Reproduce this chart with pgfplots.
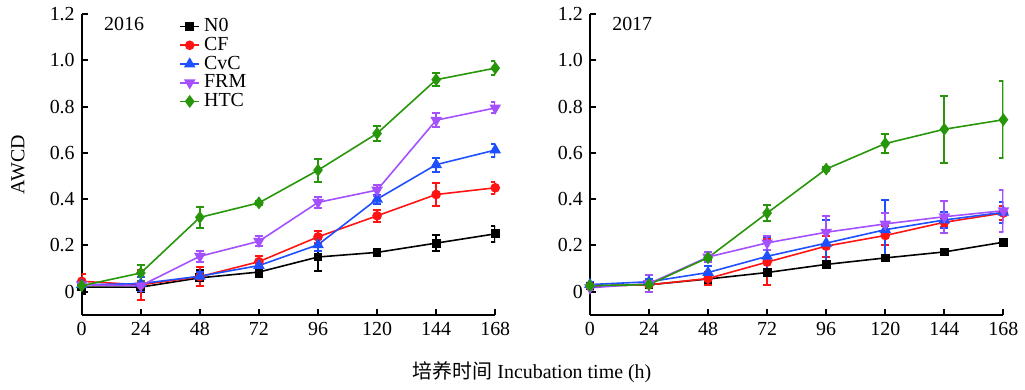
\documentclass[border=0pt]{standalone}
\usepackage{fontspec}
\setmainfont{Liberation Serif}
\newfontfamily\cjk{Noto Sans CJK SC}
\usepackage{pgfplots}
\pgfplotsset{compat=1.18}
\definecolor{cN}{RGB}{0,0,0}
\definecolor{cCF}{RGB}{255,20,20}
\definecolor{cCvC}{RGB}{30,80,255}
\definecolor{cFRM}{RGB}{165,80,255}
\definecolor{cHTC}{RGB}{40,150,10}
\pgfplotsset{
  myaxis/.style={
    scale only axis, width=207.5pt, height=151pt,
    xmin=0, xmax=168, ymin=-0.1, ymax=1.2,
    axis x line=bottom, axis y line=left,
    axis line style={line width=1pt,-},
    xtick={0,24,48,72,96,120,144,168},
    ytick={0,0.2,0.4,0.6,0.8,1.0,1.2},
    yticklabels={0,0.2,0.4,0.6,0.8,1.0,1.2},
    tick align=inside, major tick length=3pt,
    tick style={line width=1pt, black},
    /pgf/number format/assume math mode=true,
    tick label style={font=\fontsize{10}{12}\selectfont},
    every axis plot/.append style={line width=0.8pt},
    error bars/error bar style={line width=1pt},
    error bars/error mark options={rotate=90, mark size=2pt, line width=1pt},
    legend image code/.code={\draw[mark repeat=2,mark phase=2] plot coordinates {(0cm,0cm)(0.17cm,0cm)(0.34cm,0cm)};},
  },
  sN/.style={color=cN, mark=square*, mark size=1.8pt, error bars/.cd, y dir=both, y explicit},
  sCF/.style={color=cCF, mark=*, mark size=2pt, error bars/.cd, y dir=both, y explicit},
  sCvC/.style={color=cCvC, mark=triangle*, mark size=2.6pt, error bars/.cd, y dir=both, y explicit},
  sFRM/.style={color=cFRM, mark=triangle*, mark options={rotate=180}, mark size=2.6pt, error bars/.cd, y dir=both, y explicit},
  sHTC/.style={color=cHTC, mark=diamond*, mark size=2.6pt, error bars/.cd, y dir=both, y explicit},
}
\begin{document}
\begin{tikzpicture}
\path (-41pt,-36pt) rectangle (471.5pt,158pt);
\begin{axis}[myaxis, name=left, at={(0,0)}, anchor=south west,
  ylabel={AWCD},
  ylabel style={at={(axis description cs:-0.154,0.5)}, anchor=center, font=\fontsize{10}{12}\selectfont},
  xlabel={{\cjk 培养时间} Incubation time (h)},
  xlabel style={at={(axis description cs:1.089,-0.19)}, anchor=center, font=\fontsize{10}{12}\selectfont},
  legend style={at={(0.235,1.0)}, anchor=north west, draw=none, fill=none,
    font=\fontsize{10}{12}\selectfont, row sep=-2.7pt, inner sep=0pt},
  legend cell align=left,
]
\addplot[sN] coordinates {(0,0.02)+-(0,0.03) (24,0.02)+-(0,0.02) (48,0.06)+-(0,0.035) (72,0.085)+-(0,0.02) (96,0.15)+-(0,0.062) (120,0.17)+-(0,0.01) (144,0.21)+-(0,0.034) (168,0.25)+-(0,0.036)};
\addplot[sCF] coordinates {(0,0.045)+-(0,0.03) (24,0.03)+-(0,0.064) (48,0.065)+-(0,0.04) (72,0.13)+-(0,0.025) (96,0.237)+-(0,0.026) (120,0.328)+-(0,0.026) (144,0.42)+-(0,0.048) (168,0.449)+-(0,0.026)};
\addplot[sCvC] coordinates {(0,0.03)+-(0,0.02) (24,0.035)+-(0,0.03) (48,0.067)+-(0,0.02) (72,0.113)+-(0,0.02) (96,0.203)+-(0,0.026) (120,0.40)+-(0,0.02) (144,0.549)+-(0,0.03) (168,0.612)+-(0,0.028)};
\addplot[sFRM] coordinates {(0,0.03)+-(0,0.02) (24,0.026)+-(0,0.02) (48,0.153)+-(0,0.023) (72,0.218)+-(0,0.022) (96,0.386)+-(0,0.023) (120,0.439)+-(0,0.024) (144,0.741)+-(0,0.03) (168,0.794)+-(0,0.024)};
\addplot[sHTC] coordinates {(0,0.026)+-(0,0.01) (24,0.081)+-(0,0.036) (48,0.321)+-(0,0.045) (72,0.384)+-(0,0.01) (96,0.525)+-(0,0.049) (120,0.684)+-(0,0.032) (144,0.916)+-(0,0.027) (168,0.966)+-(0,0.03)};
\legend{N0,CF,CvC,FRM,HTC}
\node[anchor=north west, inner sep=1.5pt, font=\fontsize{10}{12}\selectfont] at (rel axis cs:0.046,1) {2016};
\end{axis}
\begin{axis}[myaxis, name=right, at={(255pt,0)}, anchor=south west]
\addplot[sN] coordinates {(0,0.025)+-(0,0.01) (24,0.03)+-(0,0.01) (48,0.055)+-(0,0.02) (72,0.083)+-(0,0.01) (96,0.118)+-(0,0.01) (120,0.146)+-(0,0.005) (144,0.172)+-(0,0.005) (168,0.214)+-(0,0.005)};
\addplot[sCF] coordinates {(0,0.025)+-(0,0.01) (24,0.03)+-(0,0.01) (48,0.057)+-(0,0.03) (72,0.128)+-(0,0.098) (96,0.197)+-(0,0.045) (120,0.243)+-(0,0.04) (144,0.30)+-(0,0.02) (168,0.34)+-(0,0.03)};
\addplot[sCvC] coordinates {(0,0.031)+-(0,0.01) (24,0.043)+-(0,0.01) (48,0.083)+-(0,0.03) (72,0.153)+-(0,0.085) (96,0.21)+-(0,0.1) (120,0.268)+-(0,0.13) (144,0.31)+-(0,0.036) (168,0.343)+-(0,0.045)};
\addplot[sFRM] coordinates {(0,0.017)+-(0,0.01) (24,0.035)+-(0,0.036) (48,0.15)+-(0,0.02) (72,0.211)+-(0,0.03) (96,0.257)+-(0,0.07) (120,0.293)+-(0,0.045) (144,0.324)+-(0,0.07) (168,0.35)+-(0,0.09)};
\addplot[sHTC] coordinates {(0,0.026)+-(0,0.01) (24,0.031)+-(0,0.01) (48,0.147)+-(0,0.01) (72,0.34)+-(0,0.036) (96,0.53)+-(0,0.01) (120,0.64)+-(0,0.04) (144,0.702)+-(0,0.145) (168,0.743)+-(0,0.166)};
\node[anchor=north west, inner sep=1.5pt, font=\fontsize{10}{12}\selectfont] at (rel axis cs:0.046,1) {2017};
\end{axis}
\end{tikzpicture}
\end{document}
